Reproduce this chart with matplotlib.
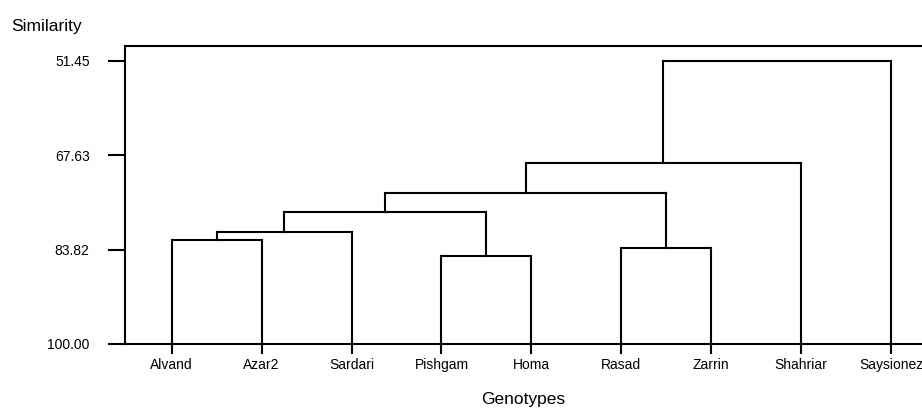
import matplotlib
matplotlib.use("Agg")
import matplotlib.pyplot as plt

plt.rcParams["font.family"] = ["Liberation Sans", "DejaVu Sans"]

# leaves in plotted order
genotypes = ["Alvand", "Azar2", "Sardari", "Pishgam", "Homa",
             "Rasad", "Zarrin", "Shahriar", "Saysionez"]

# merges: (node a, node b, similarity) - new node ids start at len(genotypes)
merges = [
    (0, 1, 82.11),     # 9  Alvand + Azar2
    (9, 2, 80.73),     # 10 + Sardari
    (3, 4, 84.90),     # 11 Pishgam + Homa
    (5, 6, 83.48),     # 12 Rasad + Zarrin
    (10, 11, 77.30),   # 13
    (13, 12, 74.15),   # 14
    (14, 7, 69.00),    # 15 + Shahriar
    (15, 8, 51.45),    # 16 + Saysionez
]

ytick_vals = [51.45, 67.63, 83.82, 100.00]

fig = plt.figure(figsize=(9.22, 4.08), dpi=100)
ax = fig.add_axes([0.1356, 0.1569, 0.8795, 0.7304])

# node positions
xpos = {i: float(i) for i in range(len(genotypes))}
ypos = {i: 100.0 for i in range(len(genotypes))}

lw = 1.5
for k, (a, b, s) in enumerate(merges):
    node = len(genotypes) + k
    xa, xb = xpos[a], xpos[b]
    ax.plot([xa, xa], [ypos[a], s], color="black", lw=lw, solid_capstyle="projecting")
    ax.plot([xb, xb], [ypos[b], s], color="black", lw=lw, solid_capstyle="projecting")
    ax.plot([xa, xb], [s, s], color="black", lw=lw, solid_capstyle="projecting")
    xpos[node] = (xa + xb) / 2
    ypos[node] = s

ax.set_xlim(-0.52, 8.5)
ax.set_ylim(100, 48.9)

ax.set_yticks(ytick_vals)
ax.set_yticklabels([f"{v:.2f}" for v in ytick_vals], fontsize=10)
ax.set_xticks(range(len(genotypes)))
ax.set_xticklabels(genotypes, fontsize=10)

ax.tick_params(axis="y", length=12.5, width=1.5, pad=13, direction="out")
ax.tick_params(axis="x", length=7, width=1.5, pad=3, direction="out")

for side in ["left", "top", "bottom"]:
    ax.spines[side].set_linewidth(1.5)
ax.spines["right"].set_visible(False)

fig.text(11 / 922, 1 - 31 / 408, "Similarity", fontsize=12.5, ha="left", va="baseline")
fig.text(523 / 922, 1 - 404 / 408, "Genotypes", fontsize=12.5, ha="center", va="baseline")

fig.savefig("out.png", dpi=100)
